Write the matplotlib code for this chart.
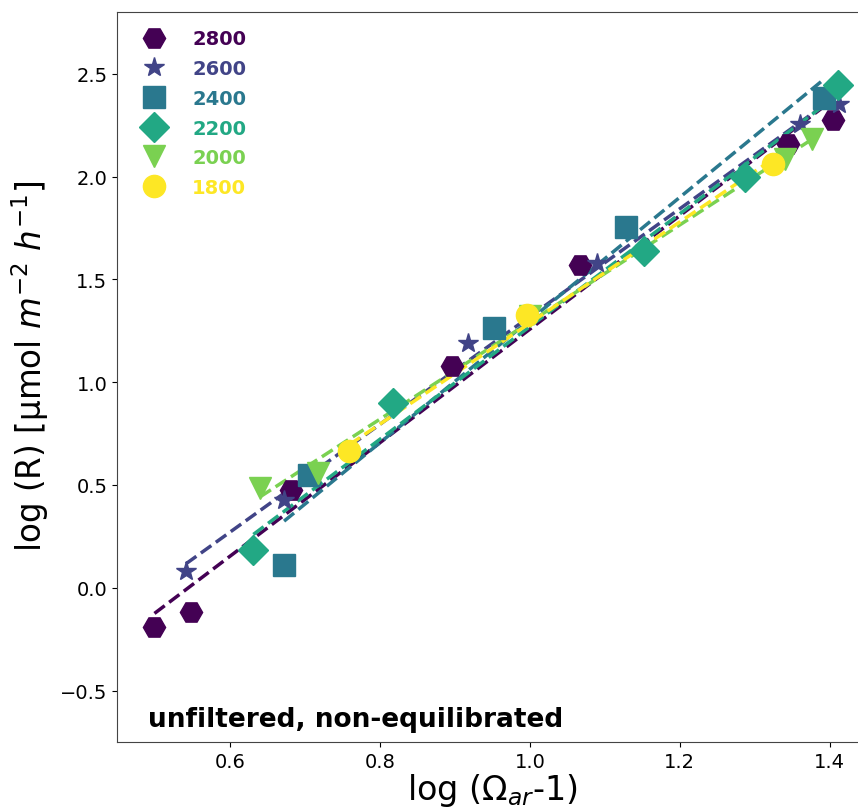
import numpy as np
import matplotlib
matplotlib.use("Agg")
import matplotlib.pyplot as plt

labels = ["2800", "2600", "2400", "2200", "2000", "1800"]
colors = ["#440154", "#414487", "#2a788e", "#22a884", "#7ad151", "#fde725"]
markers = ["H", "*", "s", "D", "v", "o"]
msizes = [16, 15, 16, 15, 16, 16]

x2800 = [0.499, 0.548, 0.681, 0.896, 1.067, 1.345, 1.404]
y2800 = [-0.19, -0.117, 0.477, 1.08, 1.571, 2.16, 2.276]
x2600 = [0.541, 0.672, 0.917, 1.089, 1.360, 1.413]
y2600 = [0.083, 0.428, 1.19, 1.58, 2.257, 2.354]
x2400 = [0.672, 0.705, 0.952, 1.129, 1.393]
y2400 = [0.112, 0.55, 1.265, 1.756, 2.383]
x2200 = [0.631, 0.817, 1.153, 1.287, 1.411]
y2200 = [0.185, 0.90, 1.64, 2.0, 2.446]
x2000 = [0.64, 0.717, 1.0, 1.34, 1.376]
y2000 = [0.486, 0.56, 1.32, 2.087, 2.18]
x1800 = [0.759, 0.996, 1.324]
y1800 = [0.666, 1.328, 2.062]

xs = [x2800, x2600, x2400, x2200, x2000, x1800]
ys = [y2800, y2600, y2400, y2200, y2000, y1800]

fig = plt.figure(figsize=(8.58, 8.12), dpi=100)
ax = fig.add_axes([117/858, 69/812, 750/858, 730/812])

handles = []
for x, y, c, m, ms, lab in zip(xs, ys, colors, markers, msizes, labels):
    x = np.array(x); y = np.array(y)
    k, b = np.polyfit(x, y, 1)
    xx = np.array([x.min(), x.max()])
    ax.plot(xx, k*xx + b, '--', color=c, lw=2.5, zorder=2)
    h, = ax.plot(x, y, linestyle='none', marker=m, color=c, markersize=ms,
                 label=lab, zorder=3)
    handles.append(h)

ax.set_xlim(0.449, 1.45)
ax.set_ylim(-0.75, 2.80)
ax.set_xticks([0.6, 0.8, 1.0, 1.2, 1.4])
ax.set_yticks([-0.5, 0.0, 0.5, 1.0, 1.5, 2.0, 2.5])
ax.tick_params(labelsize=14)
ax.set_xlabel(r"log ($\Omega_{ar}$-1)", fontsize=24, labelpad=0)
ax.set_ylabel(r"log (R) [μmol $m^{-2}$ $h^{-1}$]", fontsize=23.5)
ax.yaxis.set_label_coords(-0.088, 0.516)

leg = ax.legend(handles=handles, loc="upper left", frameon=False,
                prop={"weight": "bold", "size": 14}, handletextpad=0.97,
                labelspacing=0.55, borderaxespad=0.5)
for t, c in zip(leg.get_texts(), colors):
    t.set_color(c)

ax.text(0.041, 0.014, "unfiltered, non-equilibrated", transform=ax.transAxes,
        fontsize=19, fontweight="bold", ha="left", va="bottom")

for s in ax.spines.values():
    s.set_color("#444444")

fig.savefig("out.png", dpi=100)
